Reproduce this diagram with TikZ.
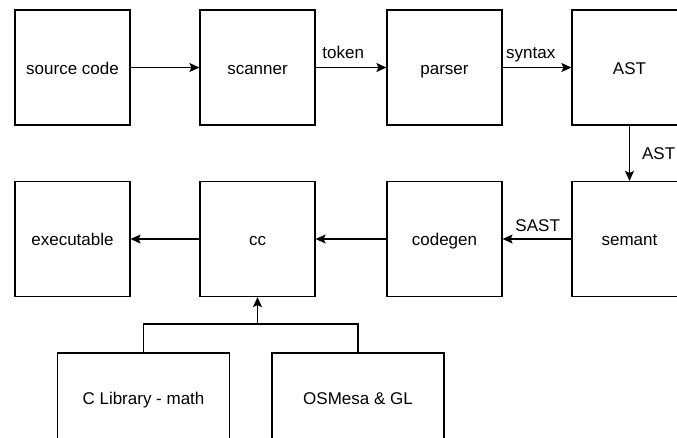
\documentclass[tikz,border=0pt]{standalone}
\usepackage{fontspec}
\setmainfont{Liberation Sans}
\usetikzlibrary{arrows.meta}
\begin{document}
\begin{tikzpicture}[x=1pt, y=-1pt,
  stage/.style={draw, line width=1.2pt, minimum width=115pt, minimum height=115pt,
    inner sep=0pt, text height=14pt, text depth=1pt,
    font=\fontsize{17}{20}\selectfont},
  lib/.style={stage, minimum width=172pt, minimum height=90pt},
  flow/.style={line width=1.2pt, -{Stealth[length=10pt, width=9pt, inset=2pt]}},
  wire/.style={line width=1.2pt},
  lbl/.style={font=\fontsize{17}{20}\selectfont, inner sep=0pt,
    text height=12pt, text depth=0pt}]
\useasboundingbox (0,0) rectangle (677,437);
\clip (0,0) rectangle (677,437);

% front end
\node[stage] (src)  at (72.5,67.5)  {source code};
\node[stage] (scan) at (257.5,67.5) {scanner};
\node[stage] (pars) at (444.5,67.5) {parser};
\node[stage] (ast)  at (629.5,67.5) {AST};

% back end
\node[stage] (exe)  at (72.5,239)  {executable};
\node[stage] (cc)   at (257.5,239) {cc};
\node[stage] (cg)   at (444.5,239) {codegen};
\node[stage] (sem)  at (629.5,239) {semant};

% linked libraries
\node[lib] (clib) at (143.5,398) {C Library - math};
\node[lib] (osm)  at (358,398)   {OSMesa \& GL};

% pipeline
\draw[flow] (src) -- (scan);
\draw[flow] (scan) -- node[lbl, above=8pt, pos=0.39] {token} (pars);
\draw[flow] (pars) -- node[lbl, above=8pt, pos=0.41] {syntax} (ast);
\draw[flow] (ast) -- node[lbl, right=12pt] {AST} (sem);
\draw[flow] (sem) -- node[lbl, above=7pt, pos=0.49] {SAST} (cg);
\draw[flow] (cg) -- (cc);
\draw[flow] (cc) -- (exe);

% libraries feed the C compiler
\coordinate (join) at (cc.south |- 0,324);
\draw[wire] (clib.north) |- (join) -| (osm.north);
\draw[flow] (join) -- (cc.south);
\end{tikzpicture}
\end{document}
